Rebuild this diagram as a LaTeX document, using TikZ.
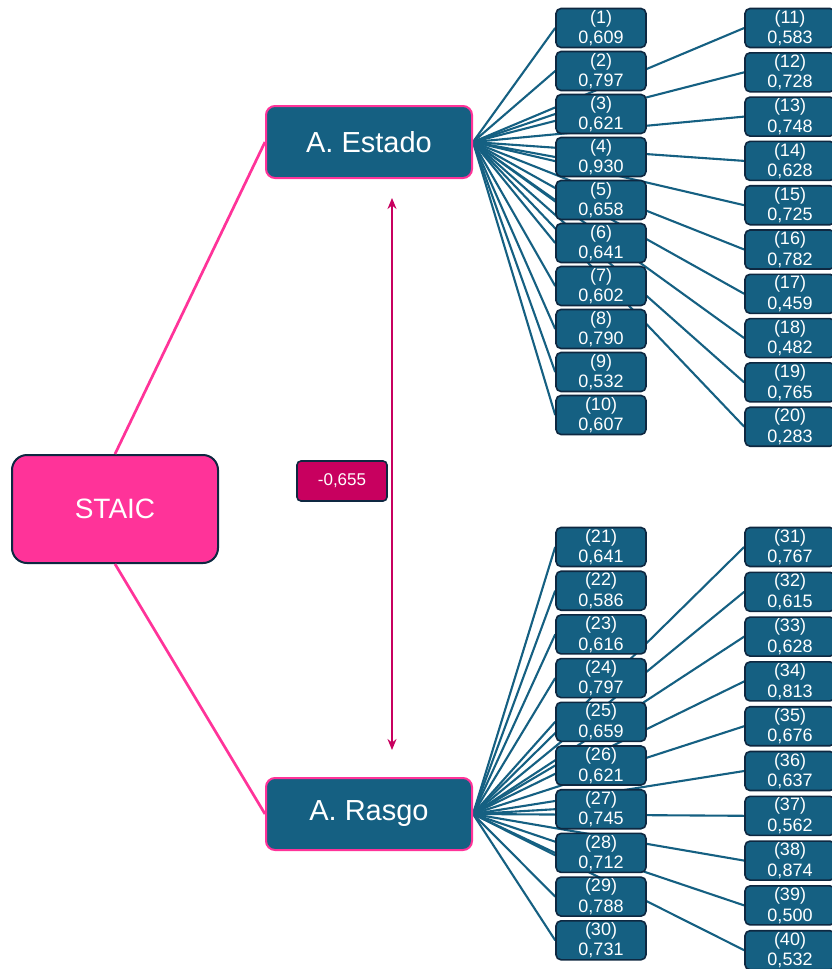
\documentclass[tikz,border=0pt]{standalone}
\usepackage{fontspec}
\setmainfont{Liberation Sans}
\usetikzlibrary{arrows.meta,backgrounds}
\definecolor{StaicPink}{HTML}{FF3399}
\definecolor{ItemTeal}{HTML}{156082}
\definecolor{EdgeDark}{HTML}{0E2841}
\definecolor{CorrRed}{HTML}{C8005F}

\tikzset{
  itembox/.style={
    rectangle, rounded corners=5pt,
    draw=EdgeDark, line width=1.6pt,
    fill=ItemTeal, text=white,
    minimum width=90pt, minimum height=39pt,
    inner sep=0pt, align=center,
    font=\fontsize{18}{20.5}\selectfont
  },
  factorbox/.style={
    rectangle, rounded corners=9pt,
    draw=StaicPink, line width=2pt,
    fill=ItemTeal, text=white,
    minimum width=206pt, minimum height=72pt,
    font=\fontsize{29}{34}\selectfont
  },
  spoke/.style={ItemTeal, line width=2.1pt},
  branch/.style={StaicPink, line width=2.7pt}
}

\begin{document}
\begin{tikzpicture}[x=1pt,y=-1pt]
    \useasboundingbox (0,0) rectangle (832,969);

    % root and the two factors
    \node[
      rectangle, rounded corners=15pt,
      draw=EdgeDark, line width=2pt,
      fill=StaicPink, text=white,
      minimum width=206pt, minimum height=108pt,
      font=\fontsize{28}{32}\selectfont
    ] (staic) at (115,509) {STAIC};
    \node[factorbox] (est) at (369,142) {A. Estado};
    \node[factorbox] (rasgo) at (369,814) {A. Rasgo};

    % correlation between factors
    \node[
      rectangle, rounded corners=4pt,
      draw=EdgeDark, line width=1.6pt,
      fill=CorrRed, text=white,
      minimum width=90pt, minimum height=40pt,
      font=\fontsize{17}{20}\selectfont
    ] (corr) at (342,481) {-0,655};
    \coordinate (arrtop) at (392,198);
    \coordinate (arrbot) at (392,750);
    \draw[{Stealth[length=11pt,width=9pt]}-{Stealth[length=11pt,width=9pt]},CorrRed,line width=1.8pt] (arrtop) -- (arrbot);

    % items of A. Estado
    \foreach \v [count=\i, evaluate=\i as \y using {28+43*(\i-1)}] in {609,797,621,930,658,641,602,790,532,607}
      \node[itembox] (it\i) at (601,\y) {(\i)\\0,\v};
    \foreach \v [count=\i from 11, evaluate=\i as \y using {28+44.3*(\i-11)}] in {583,728,748,628,725,782,459,482,765,283}
      \node[itembox] (it\i) at (790,\y) {(\i)\\0,\v};

    % items of A. Rasgo
    \foreach \v [count=\i from 21, evaluate=\i as \y using {547+43.7*(\i-21)}] in {641,586,616,797,659,621,745,712,788,731}
      \node[itembox] (it\i) at (601,\y) {(\i)\\0,\v};
    \foreach \v [count=\i from 31, evaluate=\i as \y using {547+44.8*(\i-31)}] in {767,615,628,813,676,637,562,874,500,532}
      \node[itembox] (it\i) at (790,\y) {(\i)\\0,\v};

    \draw[branch] (staic.north) -- (est.west);
    \draw[branch] (staic.south) -- (rasgo.west);

    \begin{scope}[on background layer]
      \fill[white] (0,0) rectangle (832,969);
      \foreach \i in {1,...,20}
        \draw[spoke] (est.east) -- (it\i.west);
      \foreach \i in {21,...,40}
        \draw[spoke] (rasgo.east) -- (it\i.west);
    \end{scope}
\end{tikzpicture}
\end{document}
